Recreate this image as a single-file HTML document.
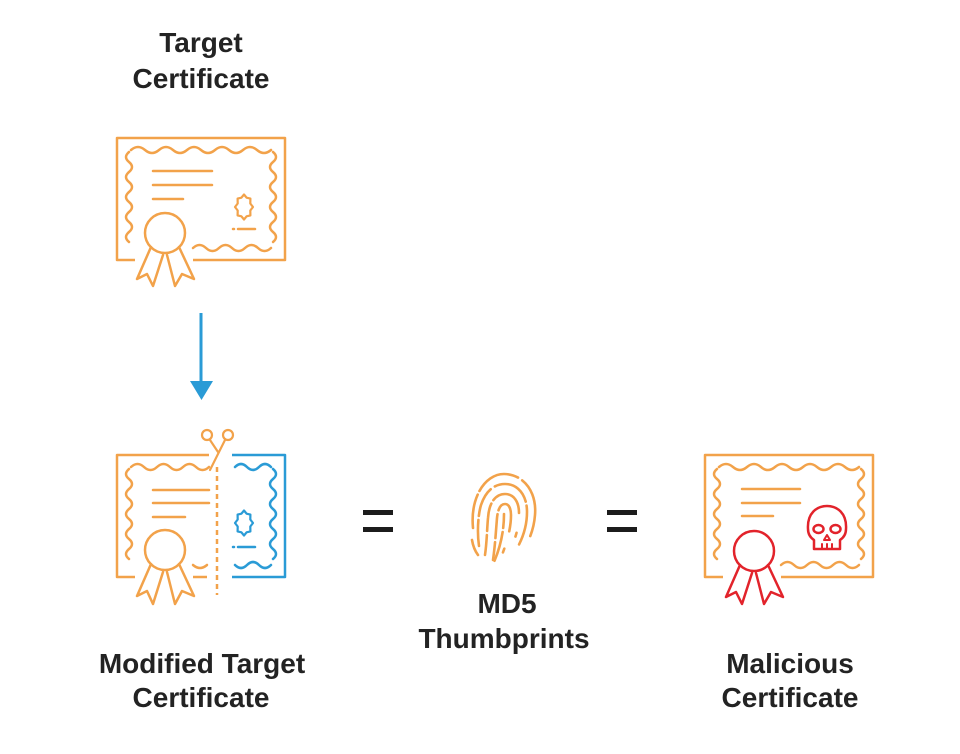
<!DOCTYPE html>
<html>
<head>
<meta charset="utf-8">
<style>
html,body{margin:0;padding:0;background:#ffffff;}
svg{display:block;}
text{font-family:"Liberation Sans",Arial,sans-serif;font-weight:bold;font-size:28px;fill:#232323;}
</style>
</head>
<body>
<svg width="960" height="754" viewBox="0 0 960 754" xmlns="http://www.w3.org/2000/svg">
<rect width="960" height="754" fill="#ffffff"/>

<!-- Labels -->
<text x="201" y="52" text-anchor="middle">Target</text>
<text x="201" y="88" text-anchor="middle">Certificate</text>
<text x="202" y="673" text-anchor="middle">Modified Target</text>
<text x="201" y="707" text-anchor="middle">Certificate</text>
<text x="507" y="613" text-anchor="middle">MD5</text>
<text x="504" y="648" text-anchor="middle">Thumbprints</text>
<text x="790" y="673" text-anchor="middle">Malicious</text>
<text x="790" y="707" text-anchor="middle">Certificate</text>

<!-- Arrow -->
<line x1="201" y1="313" x2="201" y2="384" stroke="#2A9BD6" stroke-width="3"/>
<polygon points="190,381 213,381 201.5,400" fill="#2A9BD6"/>

<!-- Equals signs -->
<rect x="363" y="510" width="30" height="5" fill="#1c1c1c"/>
<rect x="363" y="527" width="30" height="5" fill="#1c1c1c"/>
<rect x="607" y="510" width="30" height="5" fill="#1c1c1c"/>
<rect x="607" y="527" width="30" height="5" fill="#1c1c1c"/>

<!-- Certificate 1: Target -->
<g transform="translate(117,138)" fill="none" stroke="#F2A24A" stroke-width="2.5" stroke-linecap="round" stroke-linejoin="round">
  <path d="M18,122 H0 V0 H168 V122 H76" stroke-linecap="butt"/>
  <path d="M14,12 q7,-6 14,0 t14,0 t14,0 t14,0 t14,0 t14,0 t14,0 t14,0 t14,0 t14,0"/>
  <path d="M156,14 q6,5 0,10 t0,10 t0,10 t0,10 t0,10 t0,10 t0,10 t0,10 t0,10"/>
  <path d="M154,110 q-6.5,6 -13,0 t-13,0 t-13,0 t-13,0 t-13,0 t-13,0"/>
  <path d="M12,14 q-6,5 0,10 t0,10 t0,10 t0,10 t0,10 t0,10 t0,10 t0,10 t0,10"/>
  <line x1="36" y1="33" x2="95" y2="33"/>
  <line x1="36" y1="47" x2="95" y2="47"/>
  <line x1="36" y1="61" x2="66" y2="61"/>
  <polygon points="136,69 133.3,72.5 133.4,77.4 129.6,78.3 127,81.5 124.4,78.3 120.6,77.4 120.7,72.5 118,69 120.7,65.5 120.6,60.6 124.4,59.7 127,56.5 129.6,59.7 133.4,60.6 133.3,65.5" stroke-width="2.2"/>
  <line x1="116" y1="91" x2="117" y2="91"/>
  <line x1="121" y1="91" x2="138" y2="91"/>
  <circle cx="48" cy="95" r="20"/>
  <path d="M34,109 L20,141 L30,136 L36,148 L46,117"/>
  <path d="M50,117 L58,148 L65,136 L77,141 L62,109"/>
</g>

<!-- Certificate 2: Modified Target -->
<g transform="translate(117,455)" fill="none" stroke-width="2.5" stroke-linecap="round" stroke-linejoin="round">
  <g stroke="#F2A24A">
    <path d="M18,122 H0 V0 H92" stroke-linecap="butt"/>
    <path d="M76,122 H90" stroke-linecap="butt"/>
    <path d="M14,12 q6.5,-6 13,0 t13,0 t13,0 t13,0 t13,0 t13,0"/>
    <path d="M12,14 q-6,5 0,10 t0,10 t0,10 t0,10 t0,10 t0,10 t0,10 t0,10 t0,10"/>
    <path d="M90,110 q-7,6 -14,0"/>
    <line x1="36" y1="35" x2="92" y2="35"/>
    <line x1="36" y1="48" x2="92" y2="48"/>
    <line x1="36" y1="62" x2="68" y2="62"/>
    <circle cx="48" cy="95" r="20"/>
    <path d="M34,109 L20,141 L30,136 L36,149 L46,117"/>
    <path d="M50,117 L58,149 L65,136 L77,141 L62,109"/>
    <line x1="100" y1="12" x2="100" y2="140" stroke-dasharray="5 4" stroke-linecap="butt"/>
    <!-- scissors -->
    <circle cx="90" cy="-20" r="5" stroke-width="2.2"/>
    <circle cx="111" cy="-20" r="5" stroke-width="2.2"/>
    <path d="M93,-15 L101,-3" stroke-width="2.2"/>
    <path d="M108,-15 L93,15" stroke-width="2.2"/>
  </g>
  <g stroke="#2A9BD6">
    <path d="M115,0 H168 V122 H115" stroke-linecap="butt"/>
    <path d="M118,12 q6,-6 12,0 t12,0 t12,0"/>
    <path d="M156,14 q6,5 0,10 t0,10 t0,10 t0,10 t0,10 t0,10 t0,10 t0,10 t0,10"/>
    <path d="M154,110 q-6,6 -12,0 t-12,0 t-12,0"/>
    <polygon points="136,68 133.3,71.5 133.4,76.4 129.6,77.3 127,80.5 124.4,77.3 120.6,76.4 120.7,71.5 118,68 120.7,64.5 120.6,59.6 124.4,58.7 127,55.5 129.6,58.7 133.4,59.6 133.3,64.5" stroke-width="2.2"/>
    <line x1="116" y1="92" x2="117" y2="92"/>
    <line x1="121" y1="92" x2="138" y2="92"/>
  </g>
</g>

<!-- Fingerprint -->
<g fill="none" stroke="#F2A24A" stroke-width="2.6" stroke-linecap="round">
  <path d="M473,528 C470,496 486,474 504,474 C522,474 537,490 535,515 C534,528 530,538 526,545" stroke-dasharray="34 4 46 5 60"/>
  <path d="M479,546 C477,532 478,515 481,505 C486,490 495,484 505,484 C518,484 527,495 527,512 C527,527 522,540 516,550" stroke-dasharray="26 4 30 5 40 4 40"/>
  <path d="M485,555 C487,541 487,528 488,518 C489,502 496,494 505,494 C514,494 519,502 519,513 C519,530 514,543 507,556" stroke-dasharray="20 4 28 4 40"/>
  <path d="M493,560 C495,546 496,531 497,518 C498,508 501,504 505,504 C509,504 511,509 511,515 C511,530 506,545 500,560" stroke-dasharray="18 4 24 4 40"/>
  <path d="M504,514 C504,532 500,548 494,562" stroke-dasharray="14 4 30"/>
  <path d="M472,540 C473,546 475,551 478,555"/>
</g>

<!-- Certificate 3: Malicious -->
<g transform="translate(705,455)" fill="none" stroke-width="2.5" stroke-linecap="round" stroke-linejoin="round">
  <g stroke="#F2A24A">
    <path d="M18,122 H0 V0 H168 V122 H76" stroke-linecap="butt"/>
    <path d="M14,12 q7,-6 14,0 t14,0 t14,0 t14,0 t14,0 t14,0 t14,0 t14,0 t14,0 t14,0"/>
    <path d="M156,14 q6,5 0,10 t0,10 t0,10 t0,10 t0,10 t0,10 t0,10 t0,10 t0,10"/>
    <path d="M154,110 q-6.5,6 -13,0 t-13,0 t-13,0 t-13,0 t-13,0 t-13,0"/>
    <path d="M12,14 q-6,5 0,10 t0,10 t0,10 t0,10 t0,10 t0,10 t0,10 t0,10 t0,10"/>
    <line x1="37" y1="34" x2="95" y2="34"/>
    <line x1="37" y1="48" x2="95" y2="48"/>
    <line x1="37" y1="61" x2="68" y2="61"/>
  </g>
  <g stroke="#E2232B">
    <circle cx="49" cy="96" r="20"/>
    <path d="M35,110 L21,142 L31,137 L37,149 L47,118"/>
    <path d="M51,118 L59,149 L66,137 L78,142 L63,110"/>
  </g>
</g>
<!-- Skull -->
<g fill="none" stroke="#E2232B" stroke-width="2.5" stroke-linejoin="round" stroke-linecap="round">
  <path d="M808,529 C807,513 817,506 827,506 C837,506 847,513 846,529 C846,535 843,538 840,540 L840,549 L814,549 L814,540 C811,538 808,535 808,529 Z"/>
  <ellipse cx="818.5" cy="529" rx="5" ry="4"/>
  <ellipse cx="835.5" cy="529" rx="5" ry="4"/>
  <path d="M827,535 L824,540 L830,540 Z" stroke-width="2"/>
  <line x1="822" y1="544" x2="822" y2="549" stroke-width="2"/>
  <line x1="827" y1="544" x2="827" y2="549" stroke-width="2"/>
  <line x1="832" y1="544" x2="832" y2="549" stroke-width="2"/>
</g>
</svg>
</body>
</html>
